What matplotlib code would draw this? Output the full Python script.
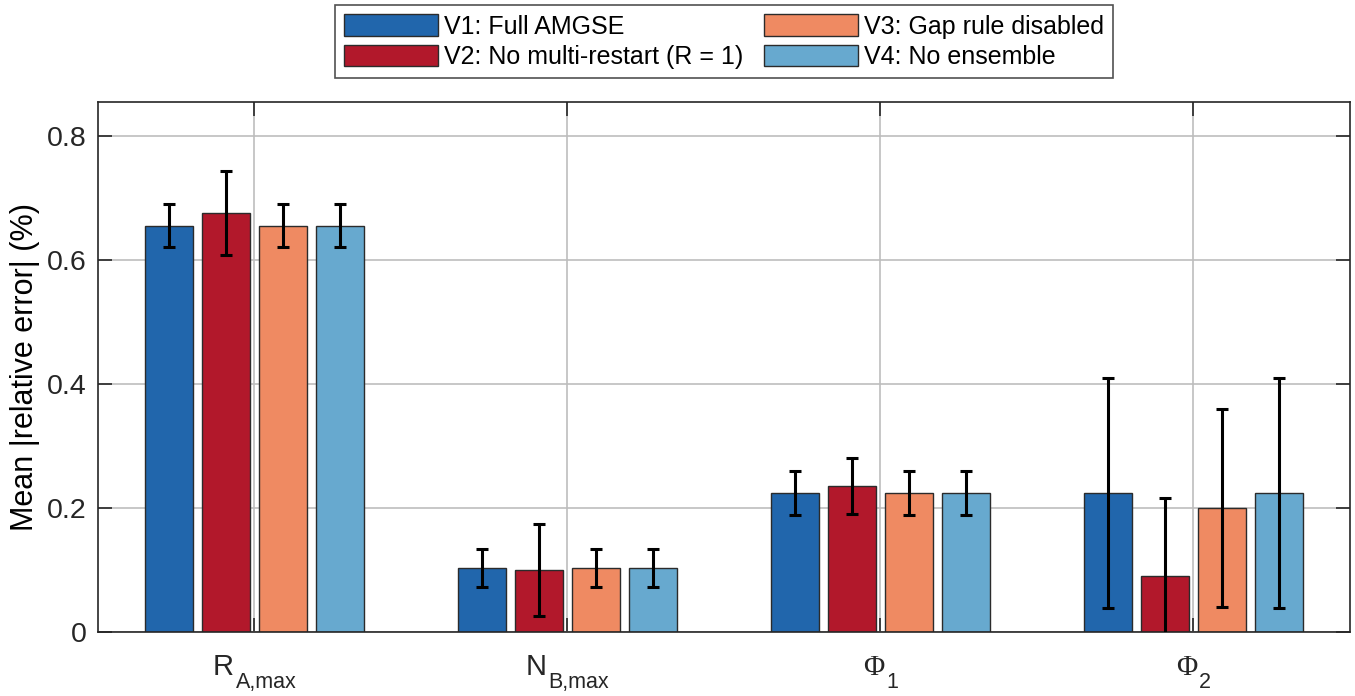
#!/usr/bin/env python3
# -*- coding: utf-8 -*-
"""
Grouped bar chart: mean |relative error| for four ablation variants,
with standard deviation error bars.
"""

import numpy as np
import matplotlib
matplotlib.use("Agg")
import matplotlib.pyplot as plt

plt.rcParams["font.family"] = ["Liberation Sans", "DejaVu Sans"]

# ---- data ----
label_main = ["R", "N", "Φ", "Φ"]
label_sub = ["A,max", "B,max", "1", "2"]
variants = ["V1: Full AMGSE", "V2: No multi-restart (R = 1)",
            "V3: Gap rule disabled", "V4: No ensemble"]
colors = ["#2166AC", "#B2182B", "#EF8A62", "#67A9CF"]

v1_mean = [0.656, 0.103, 0.224, 0.224]
v2_mean = [0.676, 0.100, 0.235, 0.090]
v3_mean = [0.656, 0.103, 0.224, 0.200]
v4_mean = [0.656, 0.103, 0.224, 0.224]

v1_std = [0.034, 0.031, 0.035, 0.186]
v2_std = [0.068, 0.075, 0.045, 0.126]
v3_std = [0.034, 0.031, 0.035, 0.160]
v4_std = [0.034, 0.031, 0.035, 0.186]

means = [v1_mean, v2_mean, v3_mean, v4_mean]
stds = [v1_std, v2_std, v3_std, v4_std]

# ---- plot ----
fig = plt.figure(figsize=(13.55, 6.96), dpi=100)
ax = fig.add_axes([0.0723, 0.092, 0.924, 0.762])

x = np.arange(1, len(label_main) + 1)
step = 0.182
width = 0.155
for i, (m, s) in enumerate(zip(means, stds)):
    pos = x + (i - 1.5) * step
    ax.bar(pos, m, width=width, color=colors[i], edgecolor="#2b2b2b",
           linewidth=1.0, label=variants[i], zorder=2)
    ax.errorbar(pos, m, yerr=s, fmt="none", ecolor="black", elinewidth=2.2,
                capsize=4, capthick=2.2, zorder=3)

ax.set_xlim(0.5, 4.5)
ax.set_ylim(0, 0.856)
ax.set_xticks(x)
ax.set_xticklabels([])
ax.set_yticks([0, 0.2, 0.4, 0.6, 0.8])
ax.set_yticklabels(["0", "0.2", "0.4", "0.6", "0.8"], fontsize=20.5)
ax.set_ylabel("Mean |relative error| (%)", fontsize=22, labelpad=5)

ax.grid(True, color="#bdbdbd", linewidth=1.2, zorder=0)
ax.set_axisbelow(True)
ax.tick_params(direction="in", length=10, width=1.2, top=True, right=True,
               colors="#262626", labelcolor="#262626", pad=8)
for sp in ax.spines.values():
    sp.set_color("#262626")
    sp.set_linewidth(1.2)

# x labels with TeX-style (lowered) subscripts, like the original
main_dy, sub_dy = -43, -56
trans = ax.get_xaxis_transform()
pairs = []
for xi, main, sub in zip(x, label_main, label_sub):
    fam = ["Liberation Serif"] if main == "Φ" else ["Liberation Sans"]
    t1 = ax.annotate(main, (xi, 0), xycoords=trans, xytext=(0, main_dy),
                     textcoords="offset pixels", ha="left", va="baseline",
                     fontsize=21, family=fam, color="#262626",
                     annotation_clip=False)
    t2 = ax.annotate(sub, (xi, 0), xycoords=trans, xytext=(0, sub_dy),
                     textcoords="offset pixels", ha="left", va="baseline",
                     fontsize=15.5, color="#262626", annotation_clip=False)
    pairs.append((t1, t2))

fig.canvas.draw()
renderer = fig.canvas.get_renderer()
for t1, t2 in pairs:
    w1 = t1.get_window_extent(renderer).width
    w2 = t2.get_window_extent(renderer).width
    start = -(w1 + w2 + 2) / 2
    t1.xyann = (start, main_dy)
    t2.xyann = (start + w1 + 2, sub_dy)

leg = ax.legend(ncol=2, loc="lower center", bbox_to_anchor=(0.5, 1.045),
                fontsize=18, frameon=True, fancybox=False, edgecolor="#262626",
                handlelength=3.76, handleheight=0.96, handletextpad=0.24,
                columnspacing=0.84, labelspacing=0.24, borderpad=0.35,
                borderaxespad=0)
leg.get_frame().set_linewidth(1.2)

fig.savefig("out.png", dpi=100)
